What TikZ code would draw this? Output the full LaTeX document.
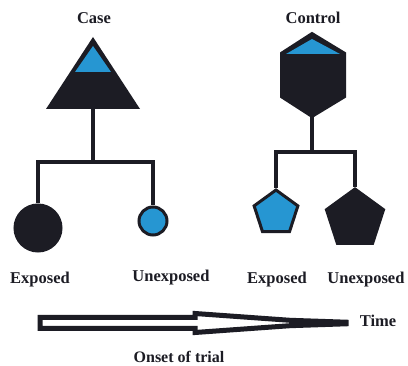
\documentclass[tikz,border=0pt]{standalone}
\usepackage{fontspec}
\setmainfont{Liberation Serif}
\usetikzlibrary{shapes.geometric}
\definecolor{ink}{RGB}{28,28,36}
\definecolor{caseblue}{RGB}{38,150,210}
\tikzset{
  lbl/.style={font=\bfseries\fontsize{16.5}{18}\selectfont, text=ink, inner sep=0pt},
  link/.style={draw=ink, line width=4.5pt, line join=miter},
  dot/.style={circle, draw=ink, line width=3pt, inner sep=0pt},
  penta/.style={regular polygon, regular polygon sides=5, draw=ink, line width=3pt, inner sep=0pt}
}
\begin{document}
\begin{tikzpicture}[x=1pt,y=-1pt]
    \useasboundingbox[fill=white] (0,0) rectangle (408,366);
    \node[lbl] (caseLbl) at (94,18) {Case};
    \node[lbl] (ctrlLbl) at (313,18) {Control};
    % case: triangle, fork, two circles
    \fill[ink] (93,37) -- (46,109) -- (140,109) -- cycle; \fill[caseblue] (93,46) -- (75,72) -- (111,72) -- cycle;
    \coordinate (caseBase) at (93,108); \coordinate (caseFork) at (93,162);
    \node[dot, fill=ink, minimum size=46pt] (caseExp) at (38,228) {};
    \node[dot, fill=caseblue, minimum size=28pt] (caseUnexp) at (153,221) {};
    \draw[link] (caseBase) -- (caseFork); \draw[link] (caseExp.north) |- (caseFork) -| (caseUnexp.north);
    % control: hexagon, fork, two pentagons
    \filldraw[ink, line width=2pt, line join=miter] (312,33) -- (281,53) -- (281,97) -- (312,117) -- (345,97) -- (345,53) -- cycle;
    \fill[caseblue] (312,39) -- (286,54) -- (340,54) -- cycle;
    \coordinate (ctrlBase) at (312,116); \coordinate (ctrlFork) at (312,152);
    \node[penta, fill=caseblue, minimum size=46pt] (ctrlExp) at (276,213) {};
    \node[penta, fill=ink, minimum size=60pt] (ctrlUnexp) at (355,219) {};
    \draw[link] (ctrlBase) -- (ctrlFork); \draw[link] (ctrlExp.corner 1) |- (ctrlFork) -| (ctrlUnexp.corner 1);
    \node[lbl] (caseExpLbl) at (40,280) {Exposed};
    \node[lbl] (caseUnexpLbl) at (171,278) {Unexposed};
    \node[lbl] (ctrlExpLbl) at (277,280) {Exposed};
    \node[lbl] (ctrlUnexpLbl) at (366,280) {Unexposed};
    % time arrow
    \filldraw[draw=ink, fill=white, line width=5pt, line join=miter] (40,317.5) -- (195,317.5) -- (195,313.5) -- (290,320.3) -- (346,322.2) -- (346,323.8) -- (290,325.7) -- (195,332.5) -- (195,328.5) -- (40,328.5) -- cycle;
    \node[lbl] (timeLbl) at (378,321) {Time};
    \node[lbl, font=\bfseries\fontsize{16}{18}\selectfont] (onsetLbl) at (179,357) {Onset of trial};
\end{tikzpicture}
\end{document}
